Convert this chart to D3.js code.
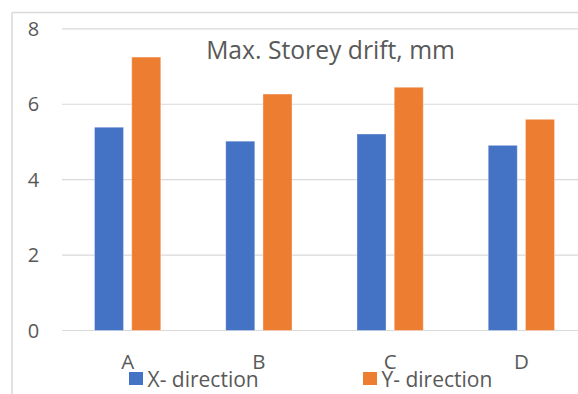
<!DOCTYPE html>
<html>
<head>
<meta charset="utf-8">
<script src="https://cdn.jsdelivr.net/npm/d3@7"></script>
<style>
  html, body { margin: 0; padding: 0; background: #fff; }
  svg { display: block; font-family: "Open Sans", sans-serif; }
</style>
</head>
<body>
<svg id="chart" width="578" height="394"></svg>
<script>
// Maximum storey drift per model, in both directions (mm)
const categories = ["A", "B", "C", "D"];
const seriesNames = ["X- direction", "Y- direction"];
const xDirection = [5.39, 5.02, 5.21, 4.91];
const yDirection = [7.25, 6.27, 6.45, 5.60];
const yTicks = [0, 2, 4, 6, 8];
const chartTitle = "Max. Storey drift, mm";

const seriesValues = [xDirection, yDirection];
const colors = ["#4472c4", "#ed7d31"];
const textColor = "#595959";
const lineColor = "#d9d9d9";

const svg = d3.select("#chart");
const W = 578, H = 394;

// outer chart frame (left and top edges)
svg.append("line").attr("x1", 12).attr("x2", 12).attr("y1", 12.5).attr("y2", H)
  .attr("stroke", lineColor).attr("stroke-width", 1.5);
svg.append("line").attr("x1", 12).attr("x2", W).attr("y1", 12.5).attr("y2", 12.5)
  .attr("stroke", lineColor).attr("stroke-width", 1.5);

const plotLeft = 62, plotRight = 587;
const y = d3.scaleLinear().domain([0, 8]).range([330.5, 28.8]);

const x0 = d3.scaleBand().domain(categories).range([plotLeft, plotRight])
  .paddingInner(0.495).paddingOuter(0.2475);
const x1 = d3.scaleBand().domain(seriesNames).range([0, x0.bandwidth()])
  .paddingInner(0.22);

// horizontal gridlines
svg.append("g").selectAll("line").data(yTicks).join("line")
  .attr("x1", plotLeft).attr("x2", W)
  .attr("y1", d => y(d)).attr("y2", d => y(d))
  .attr("stroke", lineColor).attr("stroke-width", 1.2);

// y tick labels
svg.append("g").selectAll("text").data(yTicks).join("text")
  .attr("x", 33.5).attr("y", d => y(d)).attr("dy", "0.36em")
  .attr("text-anchor", "middle").attr("fill", textColor)
  .attr("font-size", 20).text(d => d);

// bars
const rows = categories.map((c, i) => ({ cat: c, vals: seriesNames.map((s, j) => ({ s, j, v: seriesValues[j][i] })) }));
const groups = svg.append("g").selectAll("g").data(rows).join("g")
  .attr("transform", d => `translate(${x0(d.cat)},0)`);
groups.selectAll("rect").data(d => d.vals).join("rect")
  .attr("x", d => x1(d.s)).attr("width", x1.bandwidth())
  .attr("y", d => y(d.v)).attr("height", d => y(0) - y(d.v))
  .attr("fill", d => colors[d.j])
  .attr("stroke", "#ffffff").attr("stroke-opacity", 0.35).attr("stroke-width", 1);

// category labels
svg.append("g").selectAll("text").data(categories).join("text")
  .attr("x", d => x0(d) + x0.bandwidth() / 2).attr("y", 368.5)
  .attr("text-anchor", "middle").attr("fill", textColor)
  .attr("font-size", 20.5).text(d => d);

// title
svg.append("text").attr("x", 330.5).attr("y", 59)
  .attr("text-anchor", "middle").attr("fill", textColor)
  .attr("font-size", 24.7).text(chartTitle);

// legend
const legendX = [129, 363];
const legend = svg.append("g").selectAll("g").data(seriesNames).join("g")
  .attr("transform", (d, i) => `translate(${legendX[i]},372)`);
legend.append("rect").attr("width", 14).attr("height", 13)
  .attr("fill", (d, i) => colors[i]);
legend.append("text").attr("x", 18.5).attr("y", 15)
  .attr("fill", textColor).attr("font-size", 21).text(d => d);
</script>
</body>
</html>
